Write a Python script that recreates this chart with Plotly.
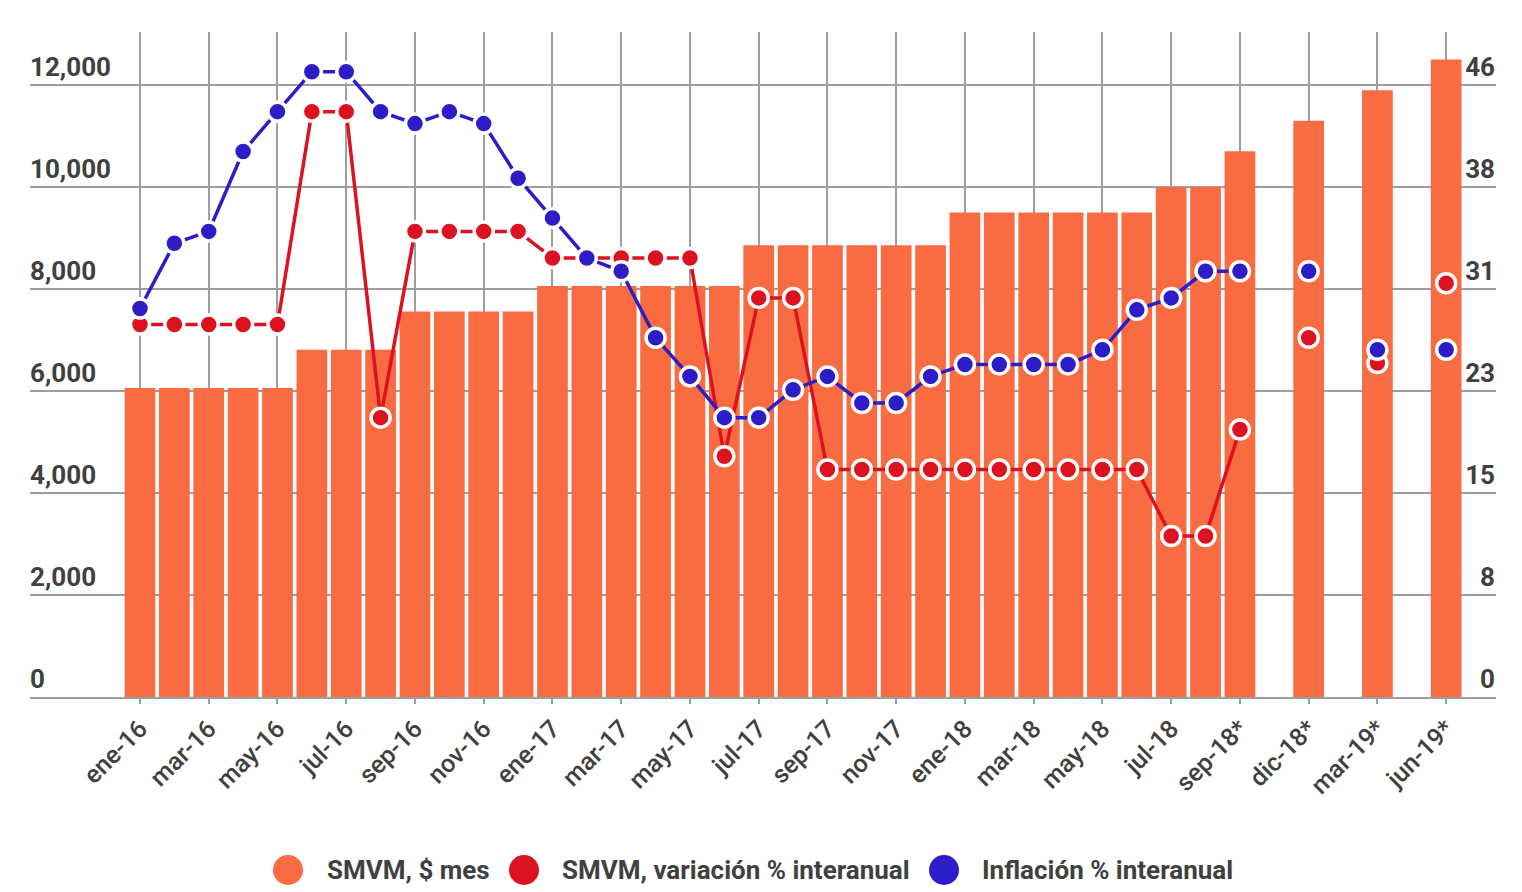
import plotly.graph_objects as go

months = ["ene-16", "feb-16", "mar-16", "abr-16", "may-16", "jun-16", "jul-16", "ago-16",
          "sep-16", "oct-16", "nov-16", "dic-16",
          "ene-17", "feb-17", "mar-17", "abr-17", "may-17", "jun-17", "jul-17", "ago-17",
          "sep-17", "oct-17", "nov-17", "dic-17",
          "ene-18", "feb-18", "mar-18", "abr-18", "may-18", "jun-18", "jul-18", "ago-18",
          "sep-18*", "", "dic-18*", "", "mar-19*", "", "jun-19*"]

smvm = [6060, 6060, 6060, 6060, 6060, 6810, 6810, 6810, 7560, 7560, 7560, 7560,
        8060, 8060, 8060, 8060, 8060, 8060, 8860, 8860, 8860, 8860, 8860, 8860,
        9500, 9500, 9500, 9500, 9500, 9500, 10000, 10000, 10700,
        None, 11300, None, 11900, None, 12500]

smvm_var = [28.0, 28.0, 28.0, 28.0, 28.0, 44.0, 44.0, 21.0, 35.0, 35.0, 35.0, 35.0,
            33.0, 33.0, 33.0, 33.0, 33.0, 18.1, 30.0, 30.0, 17.1, 17.1, 17.1, 17.1,
            17.1, 17.1, 17.1, 17.1, 17.1, 17.1, 12.1, 12.1, 20.1,
            None, 27.0, None, 25.1, None, 31.1]

inflacion = [29.2, 34.1, 35.0, 41.0, 44.0, 47.0, 47.0, 44.0, 43.1, 44.0, 43.1, 39.0,
             36.0, 33.0, 32.0, 27.0, 24.1, 21.0, 21.0, 23.1, 24.1, 22.1, 22.1, 24.1,
             25.0, 25.0, 25.0, 25.0, 26.1, 29.1, 30.0, 32.0, 32.0,
             None, 32.0, None, 26.1, None, 26.1]

left_ticks = [0, 2000, 4000, 6000, 8000, 10000, 12000]
right_max_label = 46

ORANGE = "#F96B40"
RED = "#DC1220"
BLUE = "#2C1DC6"
GRID = "#9E9E9E"
TEXT = "#404040"
FONT = "Roboto"

x = list(range(len(months)))
tick_idx = [i for i in x if i % 2 == 0]
tick_txt = [months[i] for i in tick_idx]

left_max = 13040
ratio = right_max_label / left_ticks[-1]
right_vals = [v * ratio for v in left_ticks]
right_txt = [str(round(v)) for v in right_vals]

fig = go.Figure()
fig.add_trace(go.Bar(x=x, y=smvm, width=0.893, marker=dict(color=ORANGE, line=dict(width=0)),
                     name="SMVM, $ mes", showlegend=False))
fig.add_trace(go.Scatter(x=x, y=smvm_var, yaxis="y2", mode="lines+markers",
                         line=dict(color=RED, width=3.5),
                         marker=dict(color=RED, size=19, line=dict(color="white", width=3.5)),
                         name="SMVM, variación % interanual", showlegend=False))
fig.add_trace(go.Scatter(x=x, y=inflacion, yaxis="y2", mode="lines+markers",
                         line=dict(color=BLUE, width=3.5),
                         marker=dict(color=BLUE, size=19, line=dict(color="white", width=3.5)),
                         name="Inflación % interanual", showlegend=False))

W, H = 1522, 892
L, R, T, B = 30, 26, 32, 195
pw, ph = W - L - R, H - T - B

def px(xp):
    return (xp - L) / pw

def py(yp):
    return (H - B - yp) / ph

legend_items = [(288, 325, "SMVM, $ mes", ORANGE),
                (524, 560, "SMVM, variación % interanual", RED),
                (944, 980, "Inflación % interanual", BLUE)]
shapes = []
annotations = []
for cx, tx, label, col in legend_items:
    shapes.append(dict(type="circle", xref="paper", yref="paper", xsizemode="pixel", ysizemode="pixel",
                       xanchor=px(cx), yanchor=py(870), x0=-15, x1=15, y0=-15, y1=15,
                       fillcolor=col, line=dict(width=0)))
    annotations.append(dict(xref="paper", yref="paper", x=px(tx), y=py(870), xanchor="left", yanchor="middle",
                            text=label, showarrow=False,
                            font=dict(family=FONT, size=26, color=TEXT, weight="bold")))

fig.update_layout(
    width=W, height=H, margin=dict(l=L, r=R, t=T, b=B),
    plot_bgcolor="white", paper_bgcolor="white",
    barmode="overlay",
    xaxis=dict(range=[-3.2, 39.45], tickmode="array", tickvals=tick_idx, ticktext=tick_txt,
               tickangle=-45, showgrid=True, gridcolor=GRID, gridwidth=2,
               showline=True, linecolor=GRID, linewidth=2,
               ticks="outside", ticklen=5, tickwidth=2, tickcolor=GRID,
               tickfont=dict(family=FONT, size=25, color=TEXT, weight=500), zeroline=False),
    yaxis=dict(range=[0, left_max], tickmode="array", tickvals=left_ticks,
               ticktext=[f"{v:,}" for v in left_ticks],
               showgrid=True, gridcolor=GRID, gridwidth=2, zeroline=False,
               ticklabelposition="inside top", ticklabelstandoff=-3,
               tickfont=dict(family=FONT, size=26, color=TEXT, weight="bold")),
    yaxis2=dict(range=[0, left_max * ratio], overlaying="y", side="right", tickmode="array",
                tickvals=right_vals, ticktext=right_txt, showgrid=False, zeroline=False,
                ticklabelposition="inside top", ticklabelstandoff=-2,
                tickfont=dict(family=FONT, size=26, color=TEXT, weight="bold")),
    shapes=shapes, annotations=annotations,
)

fig.write_html("out.html")
